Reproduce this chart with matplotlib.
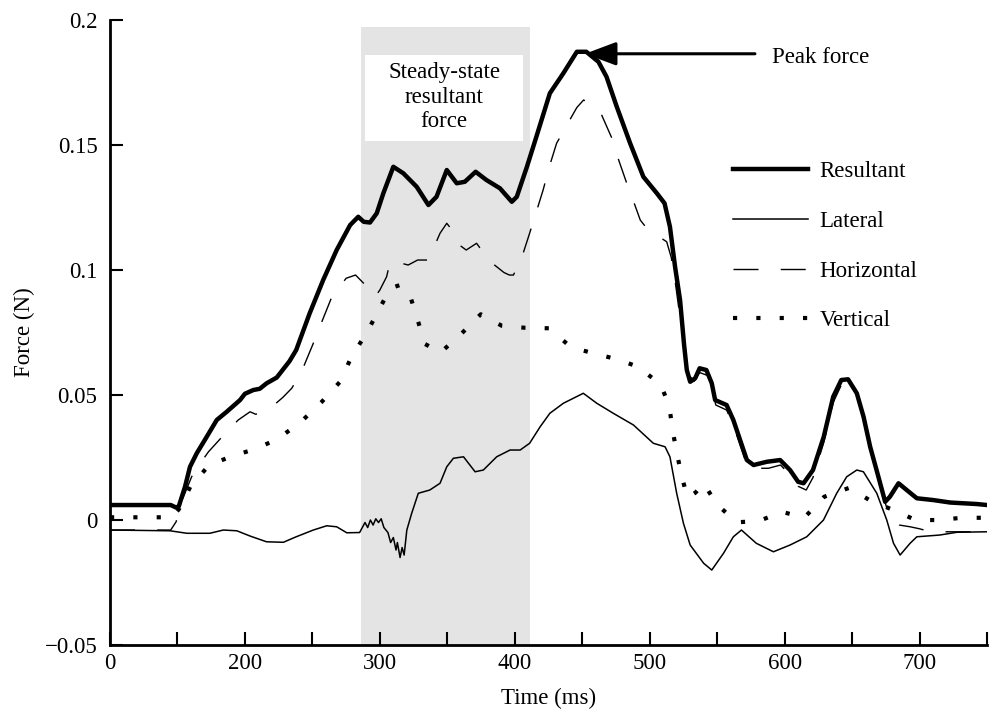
import matplotlib
matplotlib.use("Agg")
import matplotlib.pyplot as plt
from matplotlib.patches import Rectangle

plt.rcParams['font.family'] = ['Liberation Serif', 'DejaVu Serif']
plt.rcParams['font.size'] = 16.5

# resultant force
res_t = [100, 145, 149, 151, 155.6, 159.3, 164.3, 171.7, 179.1, 186.5, 196.4, 200,
         206.2, 211, 216.1, 223.6, 233, 238, 248, 258, 268, 278, 284, 288, 292.7,
         297.7, 302.6, 310, 317.4, 327.3, 336, 342, 349.6, 357, 363, 371, 379, 389,
         397.8, 401.5, 409, 416, 426, 436, 446, 453, 462, 468, 475.6, 485.5, 495.3,
         505.3, 511, 515, 518.8, 522.5, 525.5, 527.5, 530, 533.7, 537, 542, 546,
         548.5, 557, 562, 567, 572, 577, 586.8, 596.7, 604, 610, 614, 621, 629, 636,
         642, 647, 653.5, 658.5, 663.4, 669.5, 674.5, 678, 684.4, 690.5, 698, 710,
         722.7, 742.5, 750]
res_f = [0.006, 0.006, 0.005, 0.0055, 0.0133, 0.0213, 0.0267, 0.0333, 0.040, 0.0433, 0.048, 0.0505,
         0.052, 0.0525, 0.0547, 0.057, 0.0635, 0.068, 0.0827, 0.096, 0.108, 0.118, 0.1213, 0.1193, 0.119,
         0.1227, 0.1307, 0.1413, 0.1387, 0.1333, 0.126, 0.1293, 0.140, 0.1347, 0.1353, 0.1393, 0.136, 0.1327,
         0.1273, 0.1293, 0.1413, 0.1533, 0.1707, 0.1787, 0.1873, 0.1873, 0.1833, 0.1773, 0.1653, 0.1507, 0.1373,
         0.1307, 0.1267, 0.1173, 0.1013, 0.088, 0.070, 0.060, 0.0553, 0.0567, 0.0607, 0.060, 0.0547,
         0.048, 0.046, 0.040, 0.032, 0.024, 0.022, 0.0233, 0.024, 0.020, 0.0153, 0.0147, 0.020, 0.0333, 0.0493,
         0.056, 0.0563, 0.0507, 0.0413, 0.0293, 0.0173, 0.0073, 0.0093, 0.0147, 0.012, 0.0087, 0.008,
         0.007, 0.0064, 0.006]

# lateral force
lat_t = [100, 144.5, 157, 174, 184, 194, 203.8, 216, 228.5, 238, 250.7, 260.6, 268, 275.5,
         285, 287, 289, 291, 293, 295, 297, 299, 301, 303, 306, 308, 310, 312, 313, 315,
         316.5, 318, 320, 323.6, 328.5, 337, 344.6, 349.6, 354.5, 362, 370.6, 376.7,
         386.6, 396.5, 404, 411, 418.8, 426, 436, 450.8, 460.8, 473, 488, 502.7, 511.4,
         515, 520, 525, 530, 540, 546, 554.7, 562, 568, 579, 591.7, 604, 616.4, 628.8,
         638.6, 646, 653.5, 658.4, 668.3, 675.7, 680.7, 685.6, 693, 698, 715, 727.6, 750]
lat_f = [-0.004, -0.0043, -0.0053, -0.0053, -0.004, -0.0043, -0.0064, -0.0087, -0.0089, -0.0067, -0.004, -0.0023, -0.0027, -0.0051,
         -0.005, -0.003, -0.001, -0.003, 0.0, -0.002, 0.0005, -0.001, 0.0005, -0.003, -0.005, -0.009, -0.007, -0.012, -0.009, -0.015,
         -0.011, -0.014, -0.004, 0.0027, 0.0107, 0.012, 0.0147, 0.0213, 0.0247, 0.0253, 0.0193, 0.020,
         0.0253, 0.028, 0.028, 0.0307, 0.0373, 0.0427, 0.0467, 0.0507, 0.0467, 0.0427, 0.038, 0.0307, 0.0293,
         0.0253, 0.0107, -0.0013, -0.010, -0.0173, -0.020, -0.0133, -0.0067, -0.004, -0.0093, -0.0127, -0.010, -0.0067, 0.0,
         0.0107, 0.0173, 0.020, 0.0193, 0.0107, 0.0, -0.0093, -0.014, -0.0093, -0.0067, -0.006, -0.0049, -0.0047]

# horizontal force
hor_t = [100, 145, 149, 154, 160.5, 166, 173, 186.5, 195, 203.8, 208, 214, 220, 228,
         234.7, 238.4, 243, 250.7, 257, 264, 275, 282, 288, 296.4, 300, 305, 307.6, 314,
         321, 328, 336, 340, 344.6, 349.6, 354.5, 359, 364, 371.7, 378, 385, 392, 396,
         399, 405, 411, 416, 421, 426, 431, 440, 446, 451, 458, 464.4, 472, 477, 483,
         489, 493, 497.8, 505, 512.6, 516, 519, 522, 526, 529, 533, 537, 542, 546, 549,
         557, 562, 567, 572, 577, 588, 597, 604, 610, 616, 621, 629, 636, 642, 647,
         653.5, 658.5, 663.4, 669.5, 674.5, 678, 685, 693, 700, 708, 750]
hor_f = [-0.004, -0.004, -0.0007, 0.0087, 0.0173, 0.022, 0.0273, 0.0353, 0.040, 0.0433, 0.0423, 0.0435, 0.0453, 0.049,
         0.0527, 0.056, 0.0607, 0.0707, 0.0793, 0.0887, 0.0967, 0.098, 0.0947, 0.0893, 0.092, 0.0973, 0.1033, 0.103,
         0.102, 0.104, 0.104, 0.109, 0.1147, 0.1187, 0.1153, 0.110, 0.108, 0.1107, 0.106, 0.102, 0.099, 0.098,
         0.098, 0.1047, 0.1147, 0.1233, 0.132, 0.142, 0.1507, 0.1593, 0.165, 0.168, 0.166, 0.162, 0.1527, 0.144, 0.1347,
         0.126, 0.120, 0.1167, 0.114, 0.1113, 0.105, 0.095, 0.083, 0.070, 0.058, 0.0555, 0.059, 0.058, 0.053, 0.046,
         0.044, 0.038, 0.030, 0.022, 0.0207, 0.0207, 0.022, 0.018, 0.0135, 0.012, 0.017, 0.031, 0.047, 0.054, 0.0555,
         0.050, 0.040, 0.028, 0.016, 0.007, 0.0007, -0.002, -0.0027, -0.0035, -0.0047, -0.0047]

# vertical force
vert_t = [100, 117, 135, 146, 151, 159.8, 173.6, 190.7, 207, 224, 241.6, 257, 270.5, 279,
          290, 299, 307.6, 315, 323, 328.6, 333.5, 345, 360, 374.8, 390.4, 407.6, 425.4,
          441.7, 458.3, 475, 491.6, 508.4, 514.6, 517, 520, 523.3, 528, 534, 540, 549.7,
          564.5, 581, 598, 614.5, 629.3, 648, 664, 680.7, 697, 714, 731.3, 750]
vert_f = [0.0011, 0.0011, 0.0011, 0.0011, 0.0043, 0.0136, 0.022, 0.0256, 0.0283, 0.0323, 0.0393, 0.0473, 0.0553, 0.0653,
          0.0747, 0.0837, 0.0927, 0.094, 0.0887, 0.079, 0.0704, 0.067, 0.0743, 0.0823, 0.0777, 0.0769, 0.0767,
          0.0691, 0.0667, 0.0644, 0.0613, 0.054, 0.0453, 0.0357, 0.0273, 0.0184, 0.0089, 0.011, 0.0147, 0.0063,
          -0.0009, -0.0004, 0.0033, 0.0009, 0.0093, 0.0129, 0.0076, 0.004, 0.0, 0.0, 0.0009, 0.0009]

x_ticks = list(range(100, 751, 50))
x_labels = ['0', '', '200', '', '300', '', '400', '', '500', '', '600', '', '700', '']
y_ticks = [-0.05, 0, 0.05, 0.1, 0.15, 0.2]
y_labels = ['\u22120.05', '0', '0.05', '0.1', '0.15', '0.2']

steady = (286, 411)

fig = plt.figure(figsize=(9.99, 7.10), dpi=100)
ax = fig.add_axes([0.1101, 0.0915, 0.8779, 0.8803])

ax.axvspan(steady[0], steady[1], ymin=0, ymax=0.9888, color='#e4e4e4', lw=0, zorder=0)
ax.add_patch(Rectangle((289, 0.1516), 117, 0.0344, facecolor='white', edgecolor='none', zorder=1))
ax.text(347.6, 0.1692, 'Steady-state\nresultant\nforce', ha='center', va='center',
        linespacing=1.22, zorder=2)

ax.plot(vert_t, vert_f, color='black', lw=3.0, linestyle=(0, (1, 4.6)), label='Vertical', zorder=3)
ax.plot(hor_t, hor_f, color='black', lw=1.0, linestyle=(0, (18, 16)), label='Horizontal', zorder=3)
ax.plot(lat_t, lat_f, color='black', lw=1.1, label='Lateral', zorder=4)
ax.plot(res_t, res_f, color='black', lw=3.2, label='Resultant', zorder=5)

ax.annotate('', xy=(452, 0.1865), xytext=(578, 0.1865),
            arrowprops=dict(arrowstyle='-|>,head_length=0.8,head_width=0.3', lw=2.2,
                            color='black', mutation_scale=24, shrinkA=0, shrinkB=0),
            zorder=6)
ax.text(591, 0.1852, 'Peak force', ha='left', va='center')

handles, labels = ax.get_legend_handles_labels()
order = [3, 2, 1, 0]
ax.legend([handles[i] for i in order], [labels[i] for i in order],
          loc='upper left', bbox_to_anchor=(0.71, 0.774), frameon=False,
          borderpad=0, handlelength=3.27, handletextpad=0.52, labelspacing=1.25,
          borderaxespad=0)

ax.set_xlim(100, 750)
ax.set_ylim(-0.05, 0.2)
ax.set_xticks(x_ticks)
ax.set_xticklabels(x_labels)
ax.set_yticks(y_ticks)
ax.set_yticklabels(y_labels)
ax.tick_params(direction='in', length=9.5, width=1.5, pad=9)
ax.tick_params(axis='x', pad=6)

for s in ['top', 'right']:
    ax.spines[s].set_visible(False)
for s in ['left', 'bottom']:
    ax.spines[s].set_linewidth(2.0)

ax.set_xlabel('Time (ms)', labelpad=10)
ax.set_ylabel('Force (N)', labelpad=7)

fig.savefig('out.png', dpi=100)
